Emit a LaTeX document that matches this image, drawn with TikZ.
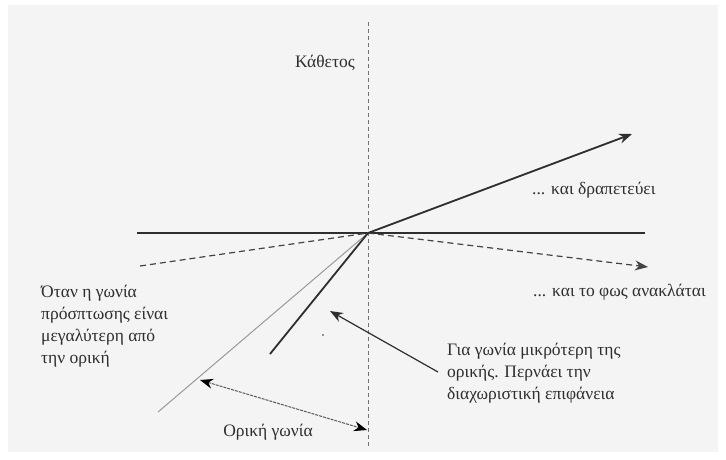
\documentclass[tikz,border=0pt]{standalone}
\usepackage{fontspec}
\setmainfont{Liberation Serif}
\usetikzlibrary{arrows.meta}
\definecolor{bgpaper}{HTML}{F4F4F4}
\definecolor{ink}{HTML}{2E2E2E}
\tikzset{
  lbl/.style={font=\fontsize{17.5}{22}\selectfont, text=ink, inner sep=0pt, align=left},
  tip/.style={-{Stealth[length=13pt,width=10pt]}},
  thickline/.style={draw=ink, line width=1.8pt},
  normal/.style={draw=ink!90, line width=1.2pt, dash pattern=on 6pt off 4pt},
  crit/.style={draw=black!40, line width=1pt},
  perp/.style={draw=black!55, line width=0.8pt, dash pattern=on 4pt off 3pt},
  dimline/.style={draw=black!65, line width=1pt, dash pattern=on 3pt off 1pt},
}
\begin{document}
\begin{tikzpicture}[x=1pt,y=-1pt]
\useasboundingbox (0,0) rectangle (726,459);
\fill[white] (0,0) rectangle (726,459);
\fill[bgpaper] (8,5) rectangle (718,452);
% coordinates
\coordinate (O) at (368,233);
\coordinate (vtop) at (368,22);
\coordinate (vbot) at (368,446);
\coordinate (hl) at (137,233);
\coordinate (hr) at (645,233);
\coordinate (esc) at (632,134);
\coordinate (refl) at (140,266);
\coordinate (refr) at (648,267);
\coordinate (critend) at (158,412);
\coordinate (incend) at (270,354);
\coordinate (ptail) at (438,372);
\coordinate (phead) at (330,311);
\coordinate (da) at (200,380);
\coordinate (db) at (367,430);
% lines
\draw[perp] (vtop) -- (vbot);
\draw[thickline] (hl) -- (hr);
\draw[normal] (refl) -- (O);
\draw[normal, tip] (O) -- (refr);
\draw[crit] (critend) -- (O);
\draw[thickline] (incend) -- (O);
\draw[thickline, tip] (O) -- (esc);
\draw[draw=ink, line width=1.2pt, tip] (ptail) -- (phead);
\draw[dimline, {Stealth[length=13pt,width=10pt,color=black,fill=black]}-{Stealth[length=13pt,width=10pt,color=black,fill=black]}] (da) -- (db);
\fill[ink] (323,335) circle (0.9pt);
% labels
\node[lbl] (kathetos) at (325,63) {Κάθετος};
\node[lbl, anchor=west] (escape) at (532,190) {... και δραπετεύει};
\node[lbl, anchor=west] (reflect) at (533,292) {... και το φως ανακλάται};
\node[lbl, anchor=north west] (left) at (41,285) {Όταν η γωνία\\πρόσπτωσης είναι\\μεγαλύτερη από\\την ορική};
\node[lbl, anchor=north west] (right) at (447,343) {Για γωνία μικρότερη της\\ορικής. Περνάει την\\διαχωριστική επιφάνεια};
\node[lbl] (critlabel) at (268,432) {Ορική γωνία};
\end{tikzpicture}
\end{document}
